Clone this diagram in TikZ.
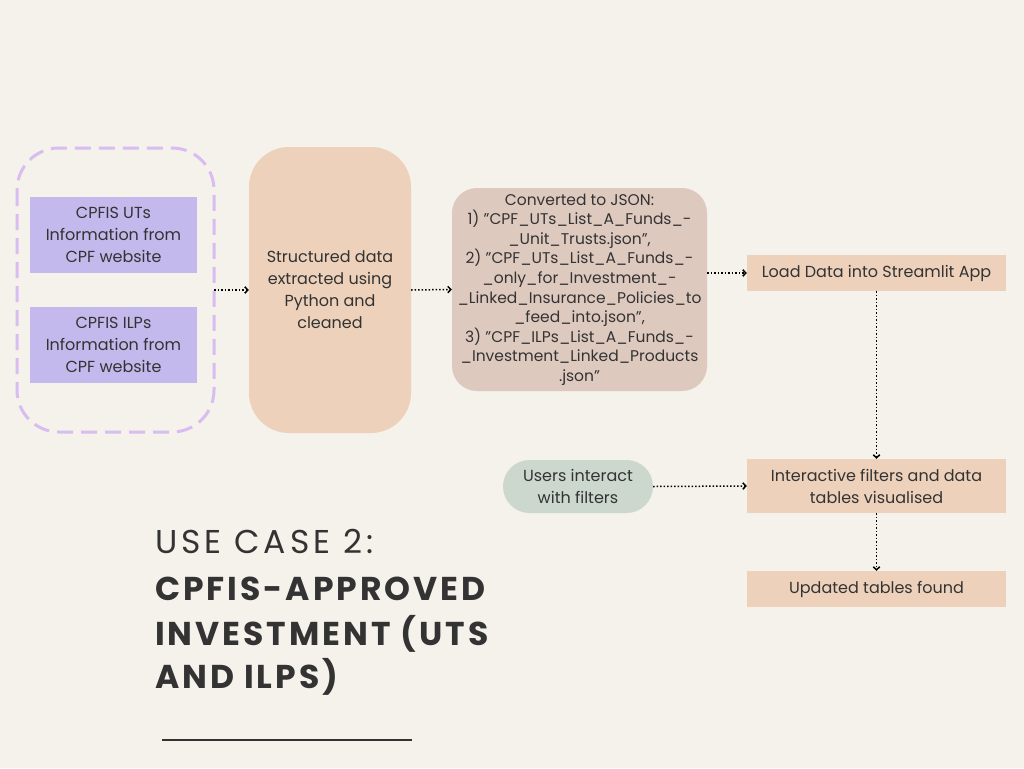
\documentclass[tikz,border=0pt]{standalone}
\usepackage{fontspec}
\setmainfont{Poppins}
\newfontfamily\titlefont[LetterSpace=12]{Poppins}
\newfontfamily\titleboldfont[LetterSpace=9]{Poppins}
\usetikzlibrary{arrows.meta}
\newcommand\dq{\symbol{34}}
\definecolor{bg}{HTML}{F5F1EB}
\definecolor{lav}{HTML}{C3B9EC}
\definecolor{lavline}{HTML}{D9BDF0}
\definecolor{peach}{HTML}{EDD1BA}
\definecolor{rose}{HTML}{DEC9BF}
\definecolor{sage}{HTML}{CCD8CE}
\definecolor{ink}{HTML}{333333}
\tikzset{
  every node/.style={text=ink},
  boxfont/.style={font=\fontsize{16}{22}\selectfont},
  lavbox/.style={fill=lav, minimum width=167, minimum height=76, align=center, inner sep=0pt, boxfont},
  peachbox/.style={fill=peach, minimum width=259, align=center, inner sep=0pt, boxfont},
  flow/.style={draw=black, line width=1.5pt, dotted, -{Straight Barb[length=3pt,width=6.5pt,line width=1.5pt]}},
  titleline/.style={anchor=base west, inner sep=0pt},
}
\begin{document}
\begin{tikzpicture}[x=1pt,y=-1pt]
\useasboundingbox (0,0) rectangle (1024,768);
\fill[bg] (0,0) rectangle (1024,768);
% dashed group
\draw[lavline, line width=3pt, dash pattern=on 16pt off 8pt, rounded corners=42] (17,148) rectangle (214,432);
\coordinate (grp) at (214,290);
\node[lavbox] (uts) at (113.5,235) {CPFIS UTs\\Information from\\CPF website};
\node[lavbox] (ilps) at (113.5,345) {CPFIS ILPs\\Information from\\CPF website};
% structured
\node[fill=peach, rounded corners=40, minimum width=162, minimum height=286, align=center, inner sep=0pt, boxfont] (struct) at (330,290) {Structured data\\extracted using\\Python and\\cleaned};
% json
\node[fill=rose, rounded corners=25, minimum width=255, minimum height=203, align=center, inner sep=0pt, font=\fontsize{15.5}{19.6}\selectfont] (json) at (579.5,289.5) {Converted to JSON:\\1) \dq CPF\_UTs\_List\_A\_Funds\_-\\\_Unit\_Trusts.json\dq,\\2) \dq CPF\_UTs\_List\_A\_Funds\_-\\\_only\_for\_Investment\_-\\\_Linked\_Insurance\_Policies\_to\\\_feed\_into.json\dq,\\3) \dq CPF\_ILPs\_List\_A\_Funds\_-\\\_Investment\_Linked\_Products\\.json\dq};
% right column
\node[peachbox, minimum height=36] (load) at (876.5,273) {Load Data into Streamlit App};
\node[peachbox, minimum height=54] (inter) at (876.5,486) {Interactive filters and data\\tables visualised};
\node[peachbox, minimum height=36] (upd) at (876.5,589) {Updated tables found};
\node[fill=sage, rounded corners=26.5, minimum width=150, minimum height=53, align=center, inner sep=0pt, boxfont] (users) at (578,486.5) {Users interact\\with filters};
% connectors
\draw[flow] (grp) -- (struct.west);
\draw[flow] (struct.east) -- (json.west);
\draw[flow] (json.east |- load.west) -- (load.west);
\draw[flow] (load.south) -- (inter.north);
\draw[flow] (users.east) -- (inter.west);
\draw[flow] (inter.south) -- (upd.north);
% title
\node[titleline, font=\titlefont\fontsize{33}{40}\selectfont] (t1) at (155,553) {USE CASE 2:};
\node[titleline, font=\titleboldfont\bfseries\fontsize{33}{40}\selectfont] (t2) at (155,600) {CPFIS-APPROVED};
\node[titleline, font=\titleboldfont\bfseries\fontsize{33}{40}\selectfont] (t3) at (155,645) {INVESTMENT (UTS};
\node[titleline, font=\titleboldfont\bfseries\fontsize{33}{40}\selectfont] (t4) at (155,688) {AND ILPS)};
\coordinate (ul) at (162,740);
\coordinate (ur) at (412,740);
\draw[ink, line width=1.2pt] (ul) -- (ur);
\end{tikzpicture}
\end{document}
